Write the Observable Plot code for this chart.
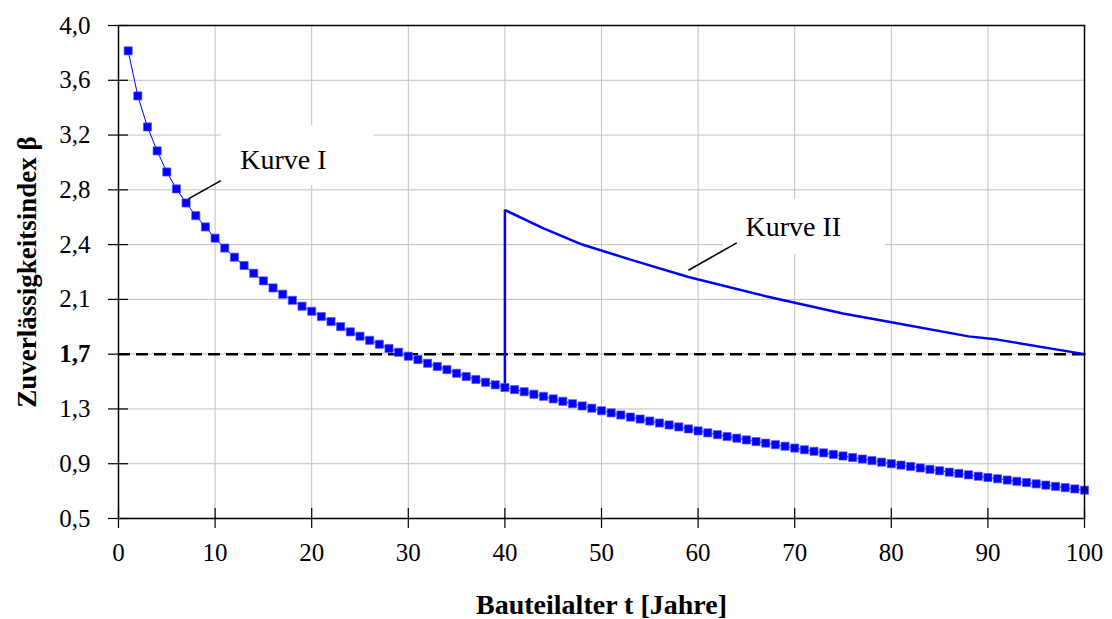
<!DOCTYPE html>
<html>
<head>
<meta charset="utf-8">
<script src="https://cdn.jsdelivr.net/npm/d3@7"></script>
<script src="https://cdn.jsdelivr.net/npm/@observablehq/plot@0.6"></script>
<style>
  html, body { margin: 0; padding: 0; background: #fff; }
</style>
</head>
<body>
<div id="chart"></div>
<script>
// ---- data ----
const years = [1,2,3,4,5,6,7,8,9,10,11,12,13,14,15,16,17,18,19,20,
  21,22,23,24,25,26,27,28,29,30,31,32,33,34,35,36,37,38,39,40,
  41,42,43,44,45,46,47,48,49,50,51,52,53,54,55,56,57,58,59,60,
  61,62,63,64,65,66,67,68,69,70,71,72,73,74,75,76,77,78,79,80,
  81,82,83,84,85,86,87,88,89,90,91,92,93,94,95,96,97,98,99,100];
const betaKurveI = [
  3.82, 3.50, 3.28, 3.11, 2.96, 2.84, 2.74, 2.65, 2.57, 2.49,
  2.42, 2.355, 2.296, 2.241, 2.187, 2.137, 2.092, 2.049, 2.007, 1.971,
  1.934, 1.898, 1.862, 1.825, 1.794, 1.765, 1.737, 1.707, 1.680, 1.652,
  1.628, 1.602, 1.579, 1.557, 1.531, 1.508, 1.487, 1.467, 1.449, 1.430,
  1.415, 1.400, 1.382, 1.367, 1.349, 1.332, 1.315, 1.299, 1.283, 1.265,
  1.250, 1.235, 1.220, 1.206, 1.192, 1.178, 1.164, 1.150, 1.136, 1.122,
  1.108, 1.095, 1.082, 1.070, 1.058, 1.046, 1.035, 1.024, 1.013, 1.000,
  0.988, 0.977, 0.966, 0.955, 0.944, 0.933, 0.922, 0.911, 0.900, 0.889,
  0.879, 0.869, 0.859, 0.849, 0.839, 0.829, 0.820, 0.810, 0.800, 0.791,
  0.782, 0.773, 0.764, 0.755, 0.746, 0.737, 0.728, 0.719, 0.710, 0.701];

const yearsKurveII = [40, 40, 44, 48, 53, 59, 67, 75, 80, 88, 91, 100];
const betaKurveII  = [1.43, 2.69, 2.56, 2.445, 2.338, 2.215, 2.078, 1.955, 1.893, 1.793, 1.770, 1.667];

const betaTarget = 1.6667; // Zielwert (Achsbeschriftung "1,7")

const xTicks = [0, 10, 20, 30, 40, 50, 60, 70, 80, 90, 100];
const yTicks = [0.5, 0.8889, 1.2778, 1.6667, 2.0556, 2.4444, 2.8333, 3.2222, 3.6111, 4.0];
const yTickLabels = ["0,5", "0,9", "1,3", "1,7", "2,1", "2,4", "2,8", "3,2", "3,6", "4,0"];

const xTitle = "Bauteilalter t [Jahre]";
const yTitle = "Zuverlässigkeitsindex β";

const annLabels = ["Kurve I", "Kurve II"];
const annTextX  = [12.6, 64.9];
const annTextY  = [3.048, 2.572];
const annLeadX1 = [7.24, 59.0];
const annLeadY1 = [2.769, 2.262];
const annLeadX2 = [10.6, 64.0];
const annLeadY2 = [2.899, 2.457];
const annBoxX1  = [10.65, 62.6];
const annBoxX2  = [26.5, 79.4];
const annBoxY1  = [2.863, 2.374];
const annBoxY2  = [3.289, 2.764];

// ---- tables built from the arrays ----
const kurveI = years.map((t, i) => ({t, b: betaKurveI[i]}));
const kurveII = yearsKurveII.map((t, i) => ({t, b: betaKurveII[i]}));
const ann = annLabels.map((label, i) => ({
  label, tx: annTextX[i], ty: annTextY[i],
  lx1: annLeadX1[i], ly1: annLeadY1[i], lx2: annLeadX2[i], ly2: annLeadY2[i],
  bx1: annBoxX1[i], bx2: annBoxX2[i], by1: annBoxY1[i], by2: annBoxY2[i]
}));

const yFmt = d => yTickLabels[yTicks.indexOf(d)];
const boldIdx = yTickLabels.indexOf("1,7");
const yTicksRegular = yTicks.filter((d, i) => i !== boldIdx);
const yTicksBold = [yTicks[boldIdx]];

const blue = "#0000ff";
const grid = "#c0c0c0";
const fontFamily = "'Liberation Serif', 'Times New Roman', Times, serif";

const chart = Plot.plot({
  width: 1112,
  height: 619,
  marginLeft: 118,
  marginRight: 28,
  marginTop: 25,
  marginBottom: 101,
  style: {fontFamily, background: "#fff", color: "#000", overflow: "visible"},
  x: {domain: [0, 100]},
  y: {domain: [0.5, 4.0]},
  marks: [
    Plot.gridX({ticks: xTicks, stroke: grid, strokeOpacity: 1, strokeWidth: 1}),
    Plot.gridY({ticks: yTicks, stroke: grid, strokeOpacity: 1, strokeWidth: 1}),
    Plot.rect(ann, {x1: "bx1", x2: "bx2", y1: "by1", y2: "by2", fill: "white"}),
    Plot.ruleY([betaTarget], {stroke: "black", strokeWidth: 2.5, strokeDasharray: "12,6"}),
    Plot.line(kurveII, {x: "t", y: "b", stroke: blue, strokeWidth: 2.5, strokeLinejoin: "miter"}),
    Plot.line(kurveI, {x: "t", y: "b", stroke: blue, strokeWidth: 1}),
    Plot.dot(kurveI, {x: "t", y: "b", symbol: "square", r: 4.6, fill: blue, stroke: "#5a5aff", strokeWidth: 1, strokeOpacity: 0.7}),
    Plot.link(ann, {x1: "lx1", y1: "ly1", x2: "lx2", y2: "ly2", stroke: "black", strokeWidth: 1.6}),
    Plot.text(ann, {x: "tx", y: "ty", text: "label", textAnchor: "start", fontSize: 28, fill: "black"}),
    Plot.frame({stroke: "black", strokeWidth: 1.5}),
    // x axis: outward ticks + labels, and inward ticks
    Plot.axisX({ticks: xTicks, tickSize: 10, tickPadding: 15, fontSize: 25, tickFormat: d => String(d), label: null, stroke: "black", strokeWidth: 1.2}),
    Plot.axisX({ticks: xTicks, tickSize: 10, dy: -10, tickFormat: () => "", label: null, stroke: "black", strokeWidth: 1.2}),
    // y axis: outward ticks + labels, bold target label, inward ticks
    Plot.axisY({ticks: yTicksRegular, tickSize: 10, tickPadding: 18, fontSize: 25, tickFormat: yFmt, label: null, stroke: "black", strokeWidth: 1.2}),
    Plot.axisY({ticks: yTicksBold, tickSize: 10, tickPadding: 18, fontSize: 25, fontWeight: "bold", tickFormat: yFmt, label: null, stroke: "black", strokeWidth: 1.2}),
    Plot.axisY({ticks: yTicks, tickSize: 10, dx: 10, tickFormat: () => "", label: null, stroke: "black", strokeWidth: 1.2}),
    // axis titles
    Plot.text([xTitle], {frameAnchor: "bottom", text: d => d, dy: 87, textAnchor: "middle", lineAnchor: "middle", fontSize: 28, fontWeight: "bold", fill: "black"}),
    Plot.text([yTitle], {frameAnchor: "left", text: d => d, rotate: -90, dx: -91, textAnchor: "middle", lineAnchor: "middle", fontSize: 27, fontWeight: "bold", fill: "black"})
  ]
});
document.getElementById("chart").appendChild(chart);
</script>
</body>
</html>
